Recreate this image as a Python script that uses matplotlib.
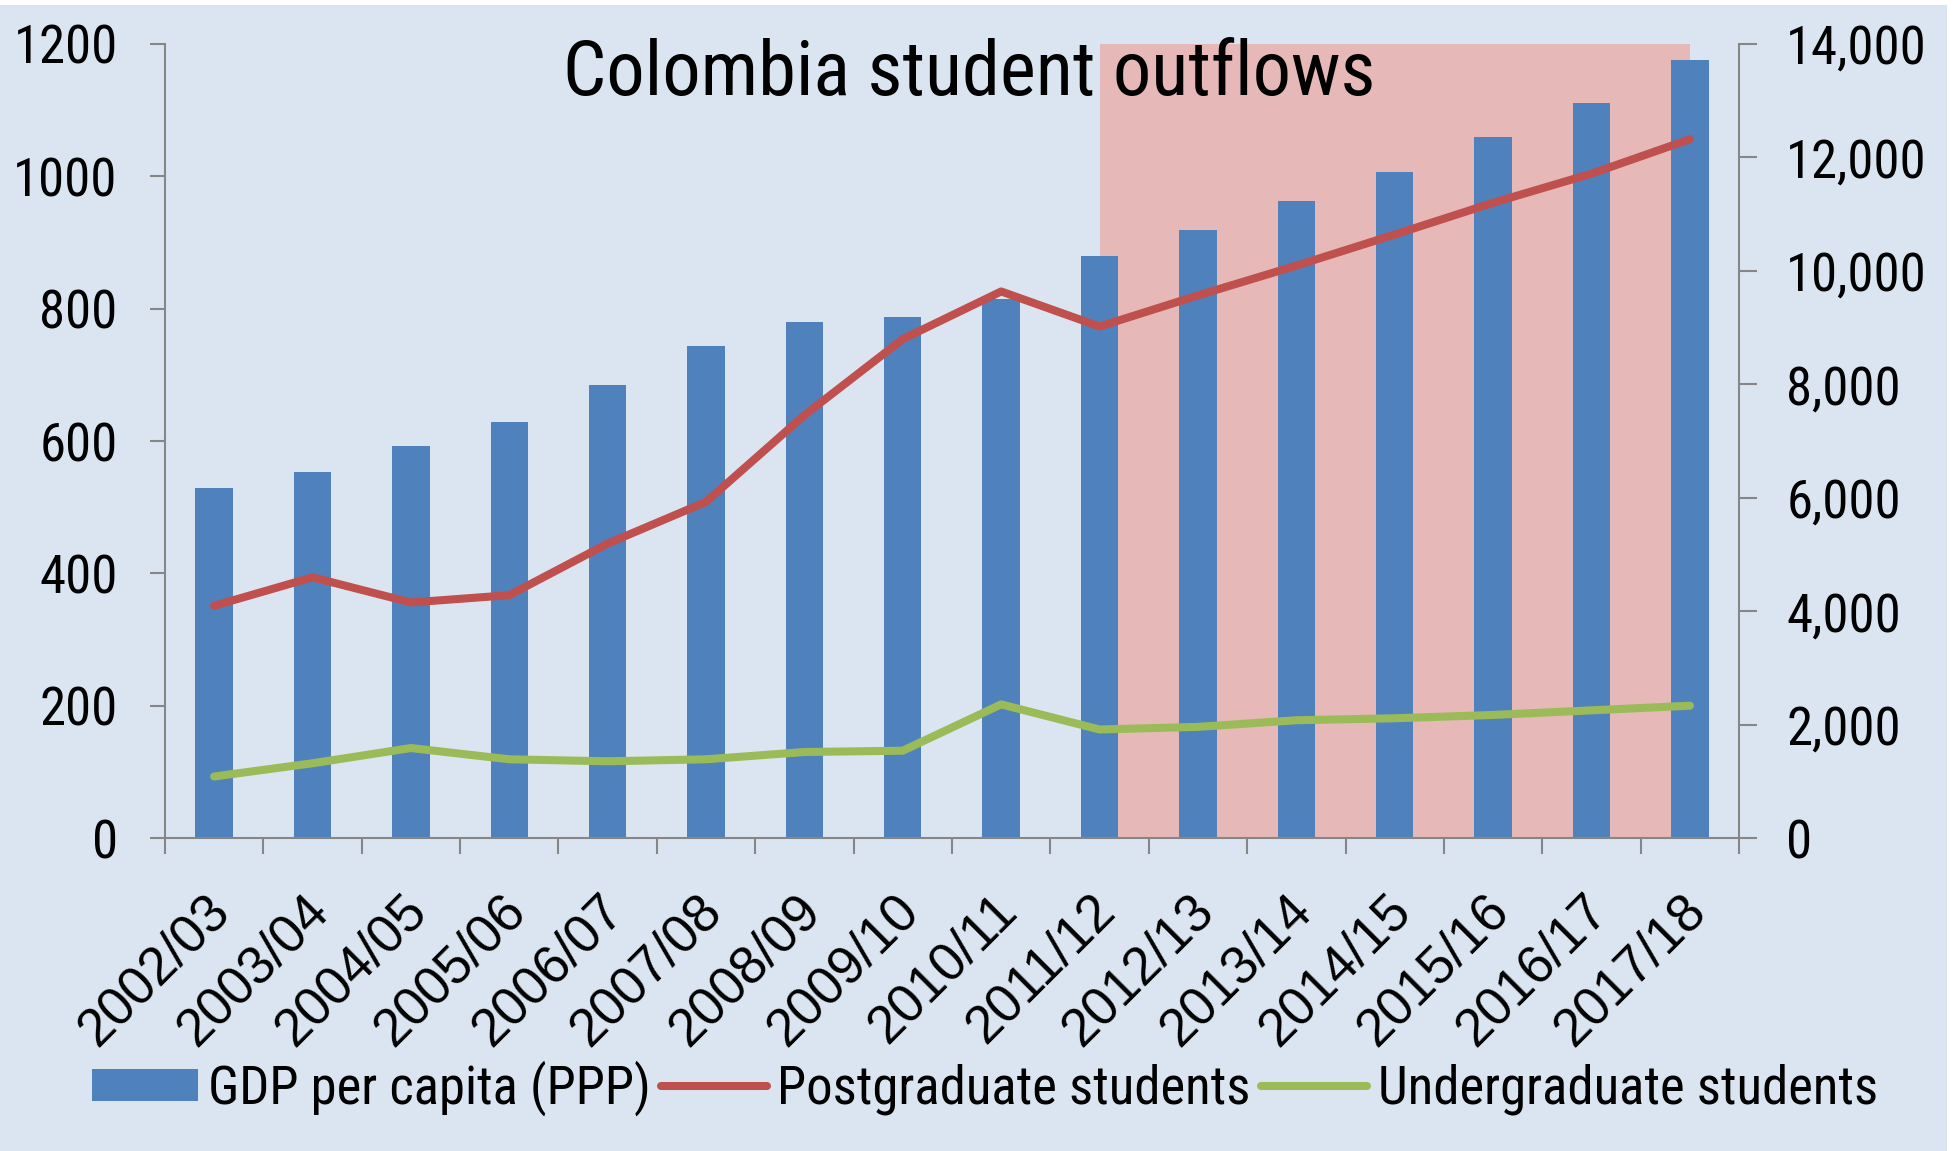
import numpy as np
import matplotlib
matplotlib.use("Agg")
import matplotlib.pyplot as plt
import matplotlib.font_manager as fm
import matplotlib.transforms as mtransforms
from matplotlib.patches import Patch, Rectangle
from matplotlib.lines import Line2D

# ---------------- data ----------------
categories = ['2002/03', '2003/04', '2004/05', '2005/06', '2006/07', '2007/08',
              '2008/09', '2009/10', '2010/11', '2011/12', '2012/13', '2013/14',
              '2014/15', '2015/16', '2016/17', '2017/18']
gdp_per_capita = [6180, 6460, 6920, 7340, 7990, 8680, 9100, 9190, 9510, 10270,
                  10720, 11240, 11750, 12360, 12960, 13710]
postgraduate = [351, 394, 356, 367, 445, 508, 639, 754, 826, 773, 820, 865,
                912, 960, 1004, 1056]
undergraduate = [93, 113, 136, 119, 116, 119, 130, 132, 202, 164, 168, 178,
                 181, 186, 193, 200]
left_ticks = [0, 200, 400, 600, 800, 1000, 1200]
right_ticks = [0, 2000, 4000, 6000, 8000, 10000, 12000, 14000]
forecast_start, forecast_end = '2011/12', '2017/18'
title = 'Colombia student outflows'
legend_labels = ['GDP per capita (PPP)', 'Postgraduate students', 'Undergraduate students']

# ---------------- styling ----------------
def has_font(name):
    try:
        fm.findfont(fm.FontProperties(family=name), fallback_to_default=False)
        return True
    except Exception:
        return False

NARROW = 'Liberation Sans'
for cand in ['Liberation Sans Narrow', 'Roboto Condensed', 'Archivo Narrow']:
    if has_font(cand):
        NARROW = cand
        break
REG = 'Liberation Sans'

BG = '#DBE5F1'
BLUE = '#4F81BD'
RED = '#C0504D'
GREEN = '#9BBB59'
PINK = '#E6B8B7'
SPINE = '#868686'

fig = plt.figure(figsize=(19.54, 11.51), dpi=100, facecolor=BG)
ax = fig.add_axes([0.0844, 0.2719, 0.8056, 0.6899])
ax2 = ax.twinx()
ax.set_zorder(2)
ax2.set_zorder(1)
ax.patch.set_visible(False)
ax2.patch.set_facecolor(BG)

x = np.arange(len(categories))

# forecast shading and bars on the right axis
i0, i1 = categories.index(forecast_start), categories.index(forecast_end)
ax2.axvspan(x[i0], x[i1], ymin=0, ymax=1, color=PINK, zorder=0, lw=0)
ax2.bar(x, gdp_per_capita, width=0.38, color=BLUE, zorder=2)

# lines on the left axis
ax.plot(x, postgraduate, color=RED, lw=5.8, solid_capstyle='round', solid_joinstyle='round')
ax.plot(x, undergraduate, color=GREEN, lw=5.8, solid_capstyle='round', solid_joinstyle='round')

ax.set_xlim(-0.5, len(categories) - 0.5)
ax.set_ylim(0, 1200)
ax2.set_ylim(0, 14000)

# spines
for a in (ax, ax2):
    for s in a.spines.values():
        s.set_visible(False)
ax.spines['left'].set_visible(True)
ax.spines['bottom'].set_visible(True)
ax2.spines['right'].set_visible(True)
for s in (ax.spines['left'], ax.spines['bottom'], ax2.spines['right']):
    s.set_color(SPINE)
    s.set_linewidth(1.5)

# y ticks
ax.set_yticks(left_ticks)
ax.set_yticklabels([str(v) for v in left_ticks])
ax.tick_params(axis='y', direction='out', length=11, width=1.5, color=SPINE,
               pad=23, labelsize=38)
ax2.set_yticks(right_ticks)
ax2.set_yticklabels([f'{v:,}' for v in right_ticks])
ax2.tick_params(axis='y', direction='out', length=13, width=1.5, color=SPINE,
                pad=21, labelsize=38)
for lab in ax.get_yticklabels() + ax2.get_yticklabels():
    lab.set_fontfamily(NARROW)

# x ticks: marks at category boundaries, labels at centers
ax.set_xticks(np.arange(-0.5, len(categories)))
ax.set_xticklabels([])
ax.tick_params(axis='x', which='major', direction='out', length=11.5, width=1.5, color=SPINE)
ax.set_xticks(x, minor=True)
ax.set_xticklabels(categories, minor=True)
ax.tick_params(axis='x', which='minor', length=0, pad=0, labelsize=38)
off = mtransforms.ScaledTranslation(8 / 100, -65 / 100, fig.dpi_scale_trans)
for lab in ax.get_xticklabels(minor=True):
    lab.set_rotation(45)
    lab.set_rotation_mode('anchor')
    lab.set_ha('right')
    lab.set_va('center')
    lab.set_fontfamily(REG)
    lab.set_transform(lab.get_transform() + off)

# title
fig.text(0.496, 0.9175, title, ha='center', va='baseline', fontsize=55,
         fontfamily=NARROW, color='black', zorder=10)

# legend
handles = [Patch(facecolor=BLUE, edgecolor='none'),
           Line2D([], [], color=RED, lw=5.8, solid_capstyle='round'),
           Line2D([], [], color=GREEN, lw=5.8, solid_capstyle='round')]
fig.legend(handles, legend_labels, loc='center', bbox_to_anchor=(0.504, 0.0547),
           ncol=3, frameon=False, prop={'family': NARROW, 'size': 38},
           handlelength=2.0, handleheight=0.55, handletextpad=0.2,
           columnspacing=0.2, borderpad=0, borderaxespad=0)

# thin white border strips at top and right
fig.patches.append(Rectangle((0, 1 - 5 / 1151), 1, 5 / 1151, transform=fig.transFigure,
                             facecolor='white', edgecolor='none', zorder=-1))
fig.patches.append(Rectangle((1 - 7 / 1954, 0), 7 / 1954, 1, transform=fig.transFigure,
                             facecolor='white', edgecolor='none', zorder=-1))

fig.savefig('out.png', dpi=100, facecolor=BG)
